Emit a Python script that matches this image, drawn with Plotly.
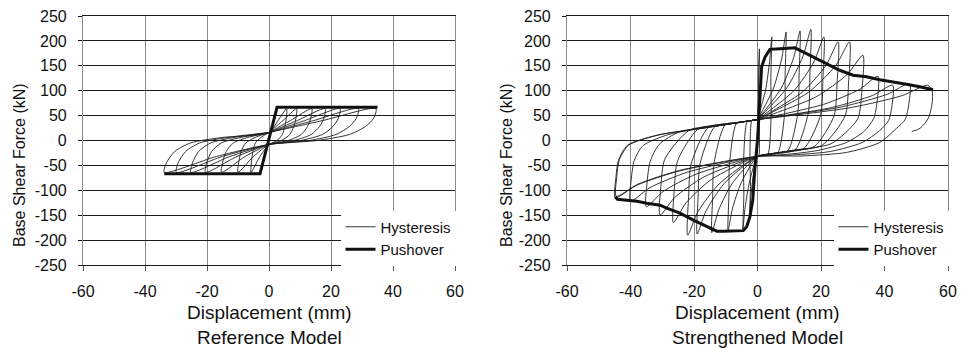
import plotly.graph_objects as go

# ---------------- DATA ----------------
x_ticks = [-60, -40, -20, 0, 20, 40, 60]
x_labels = ["-60", "-40", "-20", "0", "20", "40", "60"]
y_ticks = [-250, -200, -150, -100, -50, 0, 50, 100, 150, 200, 250]
y_labels = ["-250", "-200", "-150", "-100", "-50", "0", "50", "100", "150", "200", "250"]

# Reference model - pushover
ref_push_x = [-33.8, -2.9, 2.6, 35.0]
ref_push_y = [-67, -67, 67, 67]

# Reference model - hysteresis loops (displacement per loop, common force path)
ref_loop_force = [16, 40, 64, 45, 28, 12, 0, -8, -32, -64, -45, -22, -5, 6, 16]
ref_loop1_x = [0, 2.9, 5.7, 5.6, 5.1, 4.3, 2.6, 0, -2.9, -5.8, -5.7, -5.2, -4.4, -2.6, 0]
ref_loop2_x = [0, 4.5, 8.9, 8.7, 8.0, 6.7, 4.0, 0, -5.0, -10.0, -9.8, -9.0, -7.5, -4.5, 0]
ref_loop3_x = [0, 6.9, 13.8, 13.5, 12.4, 10.4, 6.2, 0, -7.7, -15.3, -15.0, -13.8, -11.5, -6.9, 0]
ref_loop4_x = [0, 9.1, 18.1, 17.7, 16.3, 13.6, 8.1, 0, -10.3, -20.5, -20.1, -18.5, -15.4, -9.2, 0]
ref_loop5_x = [0, 11.5, 22.9, 22.4, 20.6, 17.2, 10.3, 0, -12.6, -25.2, -24.7, -22.7, -18.9, -11.3, 0]
ref_loop6_x = [0, 14.4, 28.8, 28.2, 25.9, 21.6, 13.0, 0, -15.0, -29.9, -29.3, -26.9, -22.4, -13.5, 0]
ref_loop7_x = [0, 17.3, 34.5, 33.8, 31.1, 25.9, 15.5, 0, -16.9, -33.8, -33.1, -30.4, -25.4, -15.2, 0]

# Strengthened model - pushover
str_push_x = [-44.8, -44.1, -41.1, -38.0, -34.9, -30.7, -28.6, -24.4, -20.2, -16.0, -12.8, -10.7,
              -4.5, -3.4, -2.4, -1.5, -0.8, 0.0, 0.6, 1.3, 2.4, 3.9, 7.1, 11.8, 13.4, 17.6,
              21.8, 25.9, 30.1, 34.3, 38.5, 42.7, 46.9, 51.1, 55.3]
str_push_y = [-113, -118, -120, -122, -126, -130, -136, -146, -160, -173, -182, -182,
              -181, -173, -153, -120, -53, 0, 81, 148, 168, 183, 184, 186, 181, 168,
              154, 141, 131, 128, 122, 118, 113, 108, 102]

# Strengthened model - hysteresis loops
str_loop1_x = [0, 0.33, 0.51, 0.6, 0.3, 0.57, 0.42, 0.21, 0, -1.38, -2.13, -2.5, -2.2, -2.38, -1.75, -0.88, 0]
str_loop1_y = [42, 91.7, 141.4, 184, 110.4, 46, -31.7, -31.8, -32, -73.3, -114.6, -150, -90, -37.5, 40.3, 41.1, 42]
str_loop2_x = [0, 2.5, 3.8, 4.5, 4.2, 4.3, 3.2, 1.6, 0, -2.5, -3.9, -4.6, -4.3, -4.4, -3.2, -1.6, 0]
str_loop2_y = [42, 100.1, 158.2, 208, 124.8, 52, -28.5, -30.3, -32, -83.1, -134.2, -178, -106.8, -44.5, 38.8, 40.4, 42]
str_loop3_x = [0, 4.95, 7.65, 9.0, 8.7, 8.55, 6.3, 3.15, 0, -5.1, -7.9, -9.3, -9.0, -8.8, -6.5, -3.3, 0]
str_loop3_y = [42, 103.6, 165.2, 218, 130.8, 54.5, -25.1, -28.5, -32, -84.5, -137, -182, -109.2, -45.5, 35.5, 38.7, 42]
str_loop4_x = [0, 7.4, 11.4, 13.4, 13.1, 12.7, 9.4, 4.7, 0, -7.9, -12.2, -14.4, -14.1, -13.7, -10.1, -5.0, 0]
str_loop4_y = [42, 104.3, 166.6, 220, 132, 55, -21.7, -26.8, -32, -85.6, -139.1, -185, -111, -46.3, 31.9, 37, 42]
str_loop5_x = [0, 9.2, 14.3, 16.8, 16.5, 16.0, 11.8, 5.9, 0, -10.5, -16.2, -19.0, -18.7, -18.1, -13.3, -6.7, 0]
str_loop5_y = [42, 105.4, 168.7, 223, 133.8, 55.8, -19.1, -25.5, -32, -86.6, -141.2, -188, -112.8, -47, 28.7, 35.3, 42]
str_loop6_x = [0, 11.5, 17.8, 20.9, 20.6, 19.9, 14.6, 7.3, 0, -12.1, -18.7, -22.0, -21.7, -20.9, -15.4, -7.7, 0]
str_loop6_y = [42, 100.1, 158.2, 208, 124.8, 52, -15.9, -24, -32, -87.3, -142.6, -190, -114, -47.5, 26.6, 34.3, 42]
str_loop7_x = [0, 14.0, 21.6, 25.4, 25.1, 24.1, 17.8, 8.9, 0, -14.6, -22.5, -26.5, -26.2, -25.2, -18.6, -9.3, 0]
str_loop7_y = [42, 96.6, 151.2, 198, 118.8, 49.5, -12.4, -22.2, -32, -78.6, -125.1, -165, -99, -41.3, 23.4, 32.7, 42]
str_loop8_x = [0, 16.0, 24.7, 29.0, 28.7, 27.6, 20.3, 10.2, 0, -16.9, -26.1, -30.7, -30.4, -29.2, -21.5, -10.7, 0]
str_loop8_y = [42, 96.6, 151.2, 198, 118.8, 49.5, -9.7, -20.8, -32, -73.3, -114.6, -150, -90, -37.5, 20.5, 31.3, 42]
str_loop9_x = [0, 18.3, 28.2, 33.2, 32.9, 31.5, 23.2, 11.6, 0, -19.3, -29.8, -35.0, -34.8, -33.8, -31.0, -24.5, -12.3, 0]
str_loop9_y = [42, 87.2, 132.3, 171, 102.6, 42.8, -6.4, -19.2, -32, -67.4, -102.7, -133, -85, -42, -8, 17.5, 29.7, 42]
str_loop10_x = [0, 20.8, 32.2, 37.9, 37.7, 36.6, 33.5, 28.0, 19.0, 9.0, 0, -22.0, -34.0, -40.0, -39.8, -38.8, -36.0, -28.0, -14.0, 0]
str_loop10_y = [42, 72.5, 102.9, 129, 80, 44, 18, -4, -20, -28, -32, -63.5, -95, -122, -80, -40, -10, 12, 28, 42]
str_loop11_x = [0, 23.4, 36.2, 42.6, 42.4, 41.3, 38.5, 33.0, 23.0, 11.0, 0, -24.6, -38.1, -44.8, -44.6, -43.8, -41.0, -31.4, -15.7, 0]
str_loop11_y = [42, 66.2, 90.3, 111, 72, 40, 20, -4, -22, -29, -32, -61.1, -90.1, -115, -75, -40, -10, 11, 26.3, 42]
str_loop12_x = [0, 26.3, 40.7, 47.9, 47.7, 46.5, 43.7, 38.5, 28.0, 14.0, 0, -24.5, -37.8, -44.5, -44.3, -43.5, -40.5, -31.2, -15.6, 0]
str_loop12_y = [42, 67.2, 92.4, 114, 75, 42, 24, -4, -24, -31, -32, -60, -88, -112, -72, -38, -9, 11, 26.4, 42]
str_last_x = [0, 29.5, 45.6, 53.6, 55.0, 55.0, 53.8, 51.2, 48.6]
str_last_y = [42, 66.2, 90.3, 111, 100, 75, 44.6, 24.5, 18]

# ---------------- BUILD ----------------
ref_loops_x = [ref_loop1_x, ref_loop2_x, ref_loop3_x, ref_loop4_x, ref_loop5_x, ref_loop6_x, ref_loop7_x]
ref_hx, ref_hy = [], []
for lx in ref_loops_x:
    ref_hx += lx
    ref_hy += ref_loop_force

str_loops = [(str_loop1_x, str_loop1_y), (str_loop2_x, str_loop2_y), (str_loop3_x, str_loop3_y),
             (str_loop4_x, str_loop4_y), (str_loop5_x, str_loop5_y), (str_loop6_x, str_loop6_y),
             (str_loop7_x, str_loop7_y), (str_loop8_x, str_loop8_y), (str_loop9_x, str_loop9_y),
             (str_loop10_x, str_loop10_y), (str_loop11_x, str_loop11_y), (str_loop12_x, str_loop12_y),
             (str_last_x, str_last_y)]
str_hx, str_hy = [], []
for lx, ly in str_loops:
    str_hx += lx
    str_hy += ly

W, H = 961, 348
FONT = "Liberation Sans, Arial, sans-serif"
HYS_COLOR = "#1e1e1e"

fig = go.Figure()
fig.add_trace(go.Scatter(x=ref_hx, y=ref_hy, mode="lines", name="Hysteresis",
                         line=dict(color=HYS_COLOR, width=0.9, shape="spline", smoothing=0.7),
                         xaxis="x", yaxis="y", legend="legend", legendgroup="a"))
fig.add_trace(go.Scatter(x=ref_push_x, y=ref_push_y, mode="lines", name="Pushover",
                         line=dict(color="#111111", width=3),
                         xaxis="x", yaxis="y", legend="legend", legendgroup="b"))
fig.add_trace(go.Scatter(x=str_hx, y=str_hy, mode="lines", name="Hysteresis",
                         line=dict(color=HYS_COLOR, width=0.9, shape="spline", smoothing=0.7),
                         xaxis="x2", yaxis="y2", legend="legend2", legendgroup="c"))
fig.add_trace(go.Scatter(x=str_push_x, y=str_push_y, mode="lines", name="Pushover",
                         line=dict(color="#111111", width=3),
                         xaxis="x2", yaxis="y2", legend="legend2", legendgroup="d"))

ydom = [(H - 265) / H, (H - 16) / H]
xdom1 = [83 / W, 455 / W]
xdom2 = [567 / W, 948 / W]

def xaxis_cfg(dom, anchor):
    return dict(domain=dom, anchor=anchor, range=[-60, 60], tickvals=x_ticks, ticktext=x_labels,
                automargin=False,
                showgrid=True, gridcolor="#8a8a8a", gridwidth=1.2, zeroline=False,
                showline=True, linecolor="#1a1a1a", linewidth=1, mirror=True,
                ticks="outside", ticklen=5, tickcolor="#555", ticklabelstandoff=7,
                tickfont=dict(size=16, color="#111", family=FONT))

def yaxis_cfg(anchor):
    return dict(domain=ydom, anchor=anchor, range=[-250, 250], tickvals=y_ticks, ticktext=y_labels,
                automargin=False,
                showgrid=True, gridcolor="#1a1a1a", gridwidth=1, zeroline=False,
                showline=True, linecolor="#8a8a8a", linewidth=1.2, mirror=True,
                ticks="outside", ticklen=4, tickcolor="#1a1a1a", ticklabelstandoff=8,
                tickfont=dict(size=16, color="#111", family=FONT))

leg_common = dict(bgcolor="white", borderwidth=0, font=dict(size=15, color="#111", family=FONT),
                  xanchor="right", yanchor="bottom", tracegroupgap=0,
                  y=(H - 265.5) / H, itemwidth=30)

fig.update_layout(
    width=W, height=H, margin=dict(l=0, r=0, t=0, b=0, autoexpand=False),
    paper_bgcolor="white", plot_bgcolor="white",
    font=dict(family=FONT, color="#111"),
    xaxis=xaxis_cfg(xdom1, "y"), yaxis=yaxis_cfg("x"),
    xaxis2=xaxis_cfg(xdom2, "y2"), yaxis2=yaxis_cfg("x2"),
    legend=dict(x=456.5 / W, **leg_common),
    legend2=dict(x=949.5 / W, **leg_common),
)

def cx(dom):
    return (dom[0] + dom[1]) / 2

ann = []
for dom, sub, ytx in [(xdom1, "Reference Model", 19), (xdom2, "Strengthened Model", 506)]:
    ann.append(dict(text="Displacement (mm)", x=cx(dom), y=(H - 312) / H, xref="paper", yref="paper",
                    showarrow=False, xanchor="center", yanchor="middle",
                    font=dict(size=19, color="#111", family=FONT)))
    ann.append(dict(text=sub, x=cx(dom), y=(H - 337) / H, xref="paper", yref="paper",
                    showarrow=False, xanchor="center", yanchor="middle",
                    font=dict(size=19, color="#111", family=FONT)))
    ann.append(dict(text="Base Shear Force (kN)", x=ytx / W, y=(H - 165) / H, xref="paper", yref="paper",
                    showarrow=False, xanchor="center", yanchor="middle", textangle=-90,
                    font=dict(size=16, color="#111", family=FONT)))
fig.update_layout(annotations=ann)

fig.write_html("out.html")
